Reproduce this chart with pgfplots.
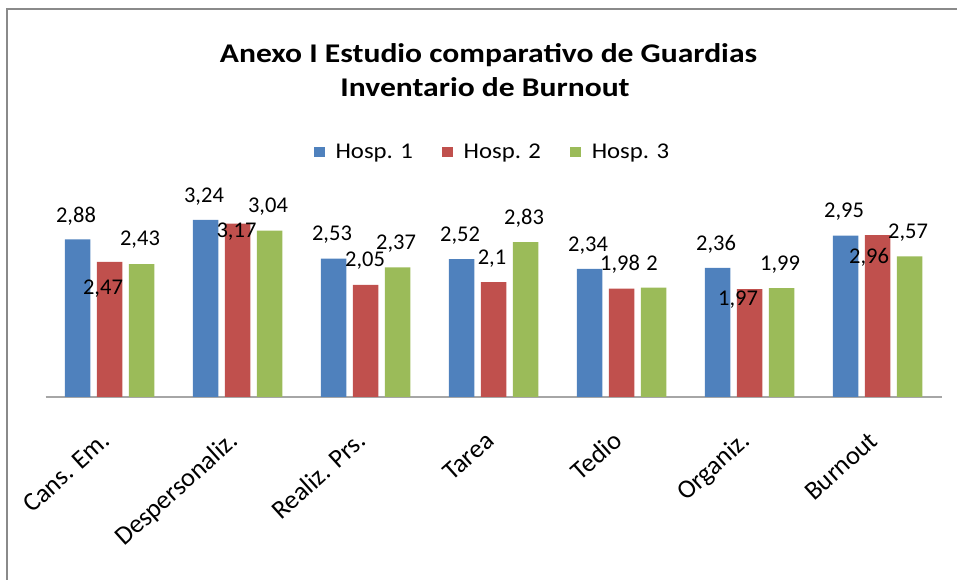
\documentclass[border=0pt]{standalone}
\usepackage{fontspec}
\setmainfont{Carlito}
\newfontfamily\titlefont[FakeStretch=1.17]{Carlito}
\newfontfamily\legfont[FakeStretch=1.1]{Carlito}
\usepackage{pgfplots}
\pgfplotsset{compat=1.18}
\usepackage{pgfplotstable}
\definecolor{c1}{HTML}{4F81BD}
\definecolor{c2}{HTML}{C0504D}
\definecolor{c3}{HTML}{9BBB59}
\definecolor{frame}{HTML}{8A8A8A}
\definecolor{axl}{HTML}{A6A6A6}
\pgfplotstableread{
x h1 h2 h3 rx ry
0 2.88 2.47 2.43 -6.5 -27
1 3.24 3.17 3.04 -1 -8.5
2 2.53 2.05 2.37 -0.5 24
3 2.52 2.10 2.83 -1.5 23
4 2.34 1.98 2.00 -1.5 24
5 2.36 1.97 1.99 -11.5 -10
6 2.95 2.96 2.57 -8.5 -22.5
}\data
\begin{document}
\begin{tikzpicture}
\useasboundingbox (0,0) rectangle (957pt,580pt);
\draw[frame, line width=2pt] (7pt,0pt) -- (7pt,571pt) -- (957pt,571pt);
\node[anchor=base, font=\titlefont\bfseries\fontsize{27}{30}\selectfont] at (488.5pt,517.5pt) {Anexo I Estudio comparativo de Guardias};
\node[anchor=base, font=\titlefont\bfseries\fontsize{27}{30}\selectfont] at (485pt,483pt) {Inventario de Burnout};
\begin{axis}[
  at={(45.5pt,183pt)}, anchor=south west,
  scale only axis, width=896pt, height=191.45pt,
  xmin=-0.5, xmax=6.5, ymin=0, ymax=3.5,
  axis x line*=bottom, axis y line=none,
  x axis line style={draw=axl, line width=2pt, -},
  xtick={0,...,6},
  xticklabels={Cans. Em., Despersonaliz., Realiz. Prs., Tarea, Tedio, Organiz., Burnout},
  major tick length=0pt, ytick=\empty,
  x tick label style={font=\fontsize{26.3}{30}\selectfont, inner sep=0pt, xshift=2pt, yshift=-46pt, rotate=42, anchor=base east},
  ybar=6.5pt, bar width=25.5pt,
  clip=false,
  /pgf/number format/assume math mode=true,
  nodes near coords={\pgfmathprintnumber[fixed, precision=2, use comma]{\pgfplotspointmeta}},
  every node near coord/.append style={anchor=center, font=\fontsize{22.5}{25}\selectfont, text=black},
  legend columns=3,
  legend style={at={(0.4989,1.2797)}, anchor=center, draw=none, fill=none,
    font=\legfont\fontsize{22.5}{25}\selectfont,
    /tikz/every odd column/.append style={column sep=9pt},
    /tikz/every even column/.append style={column sep=27pt}},
]
\addplot[fill=c1, draw=none,
  legend image code/.code={\fill[c1] (0pt,-5.35pt) rectangle (10.7pt,5.35pt);},
  every node near coord/.append style={xshift=-1.5pt, yshift=23.5pt}]
  table[x=x, y=h1]{\data};
\addplot[fill=c2, draw=none,
  legend image code/.code={\fill[c2] (0pt,-5.35pt) rectangle (10.7pt,5.35pt);},
  visualization depends on={\thisrow{rx} \as \rx},
  visualization depends on={\thisrow{ry} \as \ry},
  every node near coord/.append style={xshift=\rx pt, yshift=\ry pt}]
  table[x=x, y=h2]{\data};
\addplot[fill=c3, draw=none,
  legend image code/.code={\fill[c3] (0pt,-5.35pt) rectangle (10.7pt,5.35pt);},
  every node near coord/.append style={xshift=-1.5pt, yshift=24pt}]
  table[x=x, y=h3]{\data};
\legend{Hosp. 1, Hosp. 2, Hosp. 3}
\end{axis}
\end{tikzpicture}
\end{document}
